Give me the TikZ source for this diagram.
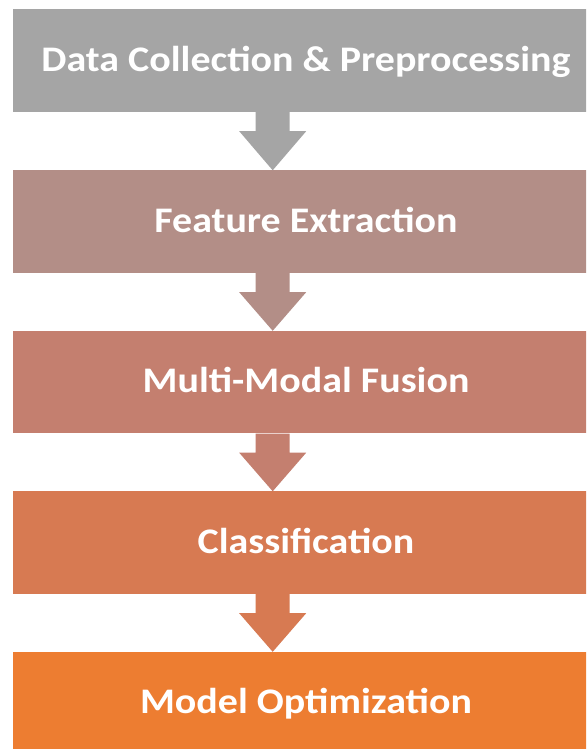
\documentclass[tikz,border=0pt]{standalone}
\usepackage{fontspec}
\setmainfont{Carlito}[FakeStretch=1.11]
\usetikzlibrary{calc}
\definecolor{cA}{HTML}{A5A5A5}
\definecolor{cB}{HTML}{B38E87}
\definecolor{cC}{HTML}{C47F6F}
\definecolor{cD}{HTML}{D77A52}
\definecolor{cE}{HTML}{ED7D31}
\tikzset{
  stagebox/.style={rectangle, fill=#1, draw=none, inner sep=0pt,
    minimum width=587pt, minimum height=102.5pt,
    text=white, font=\bfseries\fontsize{36}{40}\selectfont,
    text height=23.4pt, text depth=2pt},
  blockarrow/.style={fill=#1, draw=none}
}
\newcommand{\blockarr}[3]{%
  \fill[blockarrow=#3]
    ($(#1.south -| ax)+(-17pt,0)$) --
    ($(#1.south -| ax)+(-17pt,-19pt)$) --
    ($(#1.south -| ax)+(-33.5pt,-19pt)$) --
    (#2.north -| ax) --
    ($(#1.south -| ax)+(33.5pt,-19pt)$) --
    ($(#1.south -| ax)+(17pt,-19pt)$) --
    ($(#1.south -| ax)+(17pt,0)$) -- cycle;}
\begin{document}
\begin{tikzpicture}[x=1pt,y=1pt]
\useasboundingbox (0,0) rectangle (586,749);
\clip (0,0) rectangle (586,749);
\fill[white] (0,0) rectangle (586,749);
\coordinate (ax) at (272.7,0);
\node[stagebox=cA] (b1) at (306,{749-9.5-51.25}) {Data Collection \& Preprocessing};
\node[stagebox=cB] (b2) at (306,{749-170.5-51.25}) {Feature Extraction};
\node[stagebox=cC] (b3) at (306,{749-331-51.25}) {Multi-Modal Fusion};
\node[stagebox=cD] (b4) at (306,{749-491.5-51.25}) {Classification};
\node[stagebox=cE] (b5) at (306,{749-652-51.25}) {Model Optimization};
\blockarr{b1}{b2}{cA}
\blockarr{b2}{b3}{cB}
\blockarr{b3}{b4}{cC}
\blockarr{b4}{b5}{cD}
\end{tikzpicture}
\end{document}
